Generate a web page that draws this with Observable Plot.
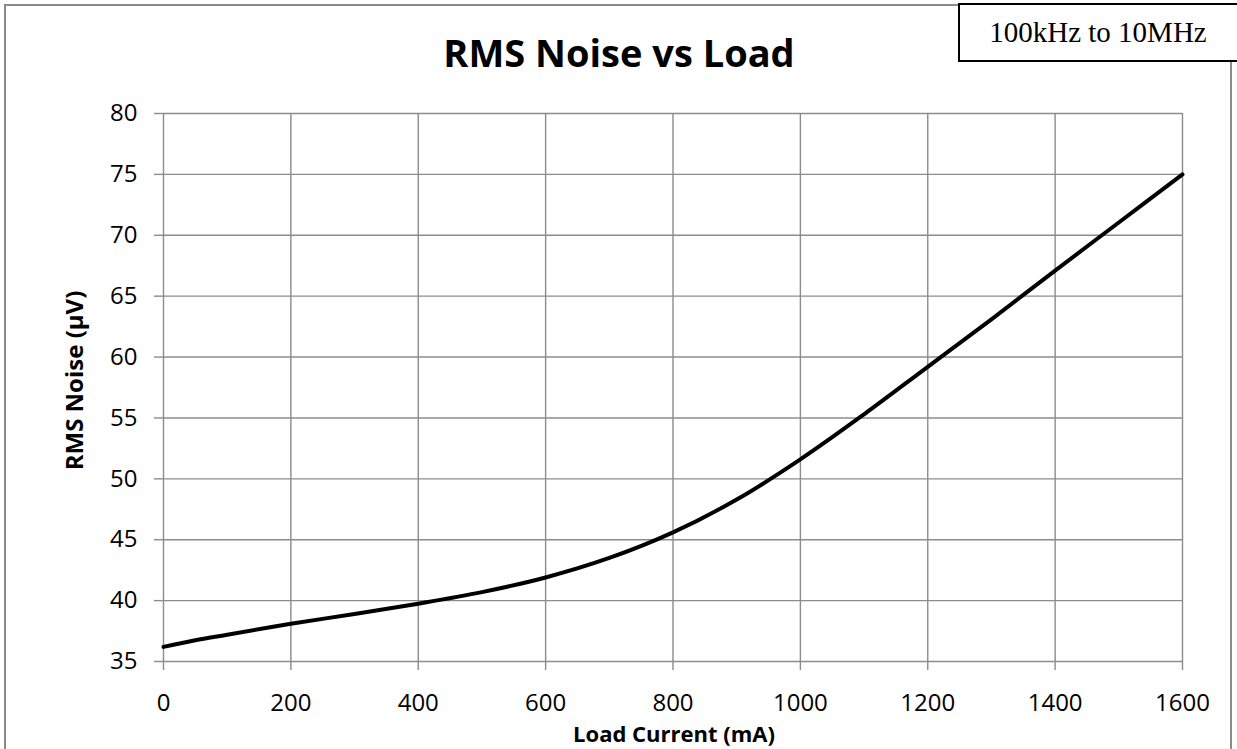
<!DOCTYPE html>
<html>
<head>
<meta charset="utf-8">
<script src="https://cdn.jsdelivr.net/npm/d3@7"></script>
<script src="https://cdn.jsdelivr.net/npm/@observablehq/plot@0.6"></script>
<style>
  html, body { margin: 0; padding: 0; background: #fff; }
  #wrap { position: relative; width: 1237px; height: 749px; overflow: hidden; background: #fff; }
  #frame { position: absolute; left: 4px; top: 4px; width: 1228px; height: 800px; border: 2px solid #8a8a8a; box-sizing: border-box; }
  #chart { position: absolute; left: 0; top: 0; }
  #note { position: absolute; left: 958px; top: 3px; width: 282px; height: 59px; border: 2px solid #000; box-sizing: border-box; background: #fff;
          font-family: "Liberation Serif", "Times New Roman", serif; font-size: 29px; color: #000;
          display: flex; align-items: center; justify-content: center; padding-right: 2px; }
</style>
</head>
<body>
<div id="wrap">
  <div id="frame"></div>
  <div id="chart"></div>
  <div id="note">100kHz to 10MHz</div>
</div>
<script>
// Data
const loadCurrent = [0, 50, 100, 200, 300, 400, 500, 600, 700, 800, 900, 1000, 1100, 1200, 1300, 1400, 1500, 1600];
const rmsNoise    = [36.2, 36.75, 37.2, 38.1, 38.9, 39.75, 40.7, 41.9, 43.5, 45.6, 48.3, 51.6, 55.3, 59.2, 63.1, 67.1, 71.05, 75.0];
const xTicks = [0, 200, 400, 600, 800, 1000, 1200, 1400, 1600];
const yTicks = [35, 40, 45, 50, 55, 60, 65, 70, 75, 80];
const titleText = "RMS Noise vs Load";
const xLabel = "Load Current (mA)";
const yLabel = "RMS Noise (µV)";

const data = loadCurrent.map((x, i) => ({x, y: rmsNoise[i]}));
const font = "'Open Sans', Lato, sans-serif";
const gridColor = "#8c8c8c";

const chart = Plot.plot({
  width: 1237,
  height: 749,
  marginLeft: 163,
  marginRight: 55,
  marginTop: 113,
  marginBottom: 88,
  style: {fontFamily: font, background: "transparent", color: "#000"},
  x: {domain: [0, 1600]},
  y: {domain: [35, 80]},
  marks: [
    Plot.gridX(xTicks, {stroke: gridColor, strokeOpacity: 1, strokeWidth: 1.4}),
    Plot.gridY(yTicks, {stroke: gridColor, strokeOpacity: 1, strokeWidth: 1.4}),
    Plot.axisX(xTicks, {tickSize: 9, tickPadding: 23, stroke: gridColor, strokeWidth: 1.4, fontSize: 24, fill: "#000", label: null, tickFormat: d => String(d)}),
    Plot.axisY(yTicks, {tickSize: 9, tickPadding: 17, stroke: gridColor, strokeWidth: 1.4, fontSize: 24, fill: "#000", label: null, tickFormat: d => String(d)}),
    Plot.line(data, {x: "x", y: "y", stroke: "#000", strokeWidth: 4, curve: "catmull-rom"}),
    Plot.text([titleText], {frameAnchor: "top", dx: -54, dy: -73, fontSize: 38, fontWeight: "bold", fill: "#000"}),
    Plot.text([xLabel], {frameAnchor: "bottom", dx: 1, dy: 80, fontSize: 22, fontWeight: "bold", fill: "#000"}),
    Plot.text([yLabel], {frameAnchor: "left", dx: -88, dy: -7, rotate: -90, textAnchor: "middle", fontSize: 24, fontWeight: "bold", fill: "#000"})
  ]
});
document.getElementById("chart").appendChild(chart);
</script>
</body>
</html>
